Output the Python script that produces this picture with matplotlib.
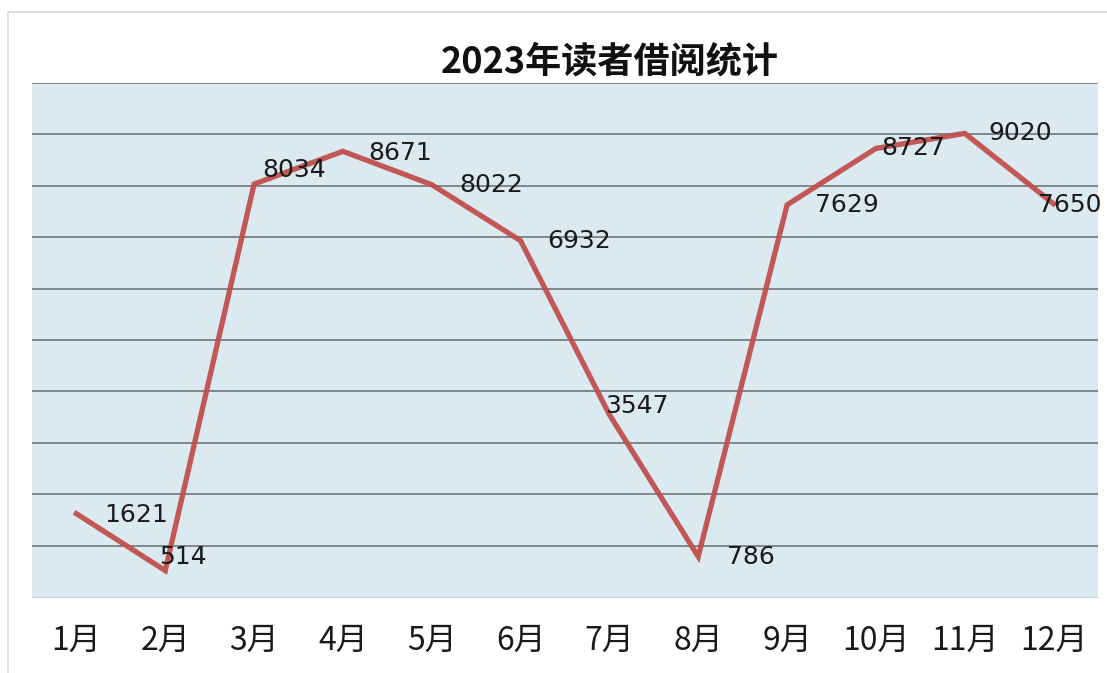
"""2023 reader borrowing statistics line chart."""

import matplotlib

matplotlib.use("Agg")

import matplotlib.pyplot as plt
from matplotlib.patches import Rectangle

plt.rcParams["font.family"] = ["Noto Sans CJK SC", "DejaVu Sans"]

months = ["1月", "2月", "3月", "4月", "5月", "6月",
          "7月", "8月", "9月", "10月", "11月", "12月"]
borrows = [1621, 514, 8034, 8671, 8022, 6932, 3547, 786, 7629, 8727, 9020, 7650]
title = "2023年读者借阅统计"

# label offsets (points) relative to each data point, as placed in the original
label_offsets = [(43, -1), (13, 10), (29, 10), (41, -1), (43, 0), (42, 0),
                 (20, 6), (38, 0), (43, 0), (27, 0), (40, 0), (12, -1)]

fig = plt.figure(figsize=(11.07, 6.73), dpi=100)
fig.patch.set_facecolor("white")
fig.add_artist(Rectangle((8 / 1107, -0.05), 1.2, (673 - 12) / 673 + 0.05,
                         transform=fig.transFigure, facecolor="none",
                         edgecolor="#d9d9d9", lw=1.2, clip_on=False))

ax = fig.add_axes([32 / 1107, 76 / 673, 1066 / 1107, 514 / 673])
ax.set_facecolor("#dbeaf1")
x = list(range(len(months)))
ax.plot(x, borrows, color="#c0504d", lw=3.8, alpha=0.95, solid_joinstyle="miter")

for xi, v, (dx, dy) in zip(x, borrows, label_offsets):
    ax.annotate(str(v), (xi, v), xytext=(dx, dy), textcoords="offset points",
                ha="center", va="center", fontsize=18, color="#1a1a1a",
                family=["DejaVu Sans"])

ax.set_xlim(-0.5, 11.5)
ax.set_ylim(0, 10000)
ax.set_yticks(range(1000, 10001, 1000))
ax.set_yticklabels([])
ax.tick_params(axis="y", length=0)
ax.grid(axis="y", color="#7d878c", lw=1.4)
ax.set_axisbelow(True)
ax.set_xticks(x)
ax.set_xticklabels(months, fontsize=23, color="#1a1a1a")
ax.tick_params(axis="x", length=0, pad=20)
for side in ["left", "right", "top"]:
    ax.spines[side].set_visible(False)
ax.spines["bottom"].set_color("#c9d6dc")

fig.text(610 / 1107, 1 - 62 / 673, title, ha="center", va="center",
         fontsize=26, fontweight="bold", color="#111111")

fig.savefig("out.png", dpi=100)
plt.close(fig)
